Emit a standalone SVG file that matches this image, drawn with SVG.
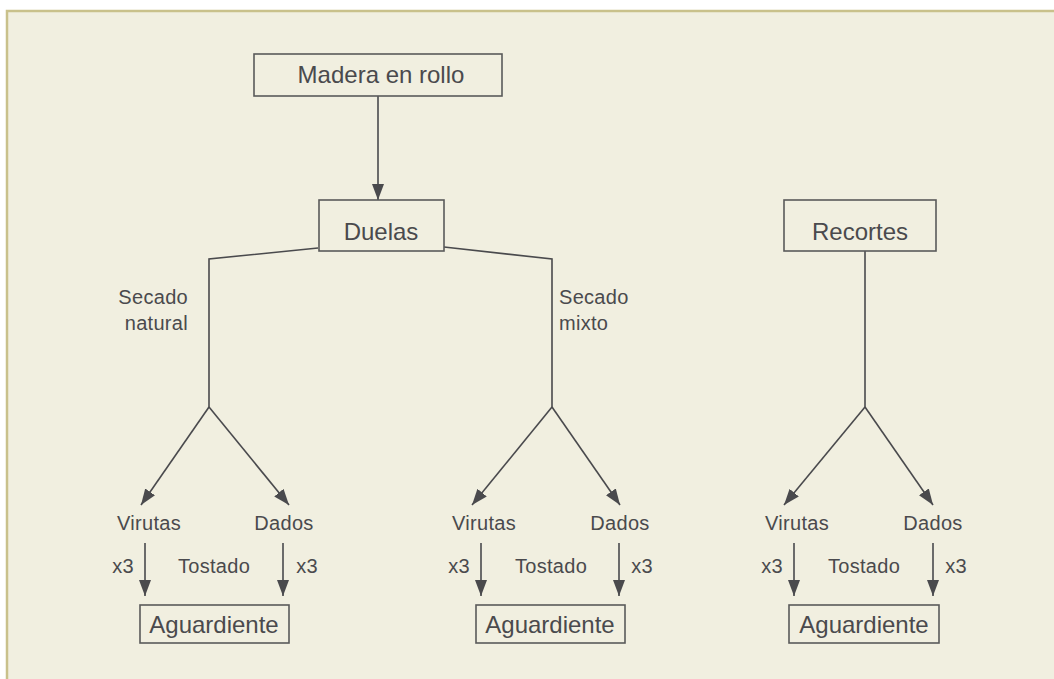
<svg xmlns="http://www.w3.org/2000/svg" width="1054" height="679" viewBox="0 0 1054 679">
  <defs>
    <marker id="arr" markerUnits="userSpaceOnUse" markerWidth="17" markerHeight="13" refX="16" refY="6" orient="auto">
      <path d="M0,0 L16,6 L0,12 z" fill="#4a4a4d"/>
    </marker>
  </defs>
  <style>
    .bg { fill: #f1efe0; stroke: #c9c18b; stroke-width: 2.5; }
    .box { fill: none; stroke: #5a5a5a; stroke-width: 1.6; }
    .t { font-family: "Liberation Sans", Arial, sans-serif; fill: #4a4a4d; text-anchor: middle; }
    .big { font-size: 24px; }
    .sm { font-size: 20px; letter-spacing: 0.3px; }
    .ln { fill: none; stroke: #4a4a4d; stroke-width: 1.6; }
    .ar { fill: none; stroke: #4a4a4d; stroke-width: 1.6; marker-end: url(#arr); }
  </style>
  <rect class="bg" x="7" y="11" width="1060" height="680"/>

  <g id="connectors">
    <line class="ar" x1="378" y1="96" x2="378" y2="200"/>
    <polyline class="ln" points="318,248 209,259 209,407"/>
    <polyline class="ln" points="444,247 552,259 552,407"/>
    <line class="ln" x1="865" y1="251" x2="865" y2="407"/>
    <line class="ar" x1="209" y1="407" x2="141" y2="505"/>
    <line class="ar" x1="209" y1="407" x2="289" y2="505"/>
    <line class="ar" x1="552" y1="407" x2="472" y2="505"/>
    <line class="ar" x1="552" y1="407" x2="620" y2="505"/>
    <line class="ar" x1="865" y1="407" x2="784" y2="505"/>
    <line class="ar" x1="865" y1="407" x2="933" y2="505"/>
    <line class="ar" x1="145" y1="543" x2="145" y2="596"/>
    <line class="ar" x1="283" y1="543" x2="283" y2="596"/>
    <line class="ar" x1="481" y1="543" x2="481" y2="596"/>
    <line class="ar" x1="619" y1="543" x2="619" y2="596"/>
    <line class="ar" x1="794" y1="543" x2="794" y2="596"/>
    <line class="ar" x1="933" y1="543" x2="933" y2="596"/>
  </g>

  <g id="madera">
    <rect class="box" x="254" y="54" width="248" height="42"/>
    <text class="t big" x="381" y="83">Madera en rollo</text>
  </g>
  <g id="duelas">
    <rect class="box" x="319" y="200" width="125" height="51"/>
    <text class="t big" x="381" y="240">Duelas</text>
  </g>
  <g id="recortes">
    <rect class="box" x="784" y="200" width="152" height="51"/>
    <text class="t big" x="860" y="240">Recortes</text>
  </g>

  <g id="secado-natural">
    <text class="t sm" x="188" y="304" style="text-anchor:end">Secado</text>
    <text class="t sm" x="188" y="330" style="text-anchor:end">natural</text>
  </g>
  <g id="secado-mixto">
    <text class="t sm" x="559" y="304" style="text-anchor:start">Secado</text>
    <text class="t sm" x="559" y="330" style="text-anchor:start">mixto</text>
  </g>

  <g id="group-natural">
    <text class="t sm" x="149" y="530">Virutas</text>
    <text class="t sm" x="284" y="530">Dados</text>
    <text class="t sm" x="123" y="573">x3</text>
    <text class="t sm" x="214" y="573">Tostado</text>
    <text class="t sm" x="307" y="573">x3</text>
  </g>
  <g id="aguardiente-1">
    <rect class="box" x="140" y="605" width="149" height="38"/>
    <text class="t big" x="214" y="633">Aguardiente</text>
  </g>

  <g id="group-mixto">
    <text class="t sm" x="484" y="530">Virutas</text>
    <text class="t sm" x="620" y="530">Dados</text>
    <text class="t sm" x="459" y="573">x3</text>
    <text class="t sm" x="551" y="573">Tostado</text>
    <text class="t sm" x="642" y="573">x3</text>
  </g>
  <g id="aguardiente-2">
    <rect class="box" x="476" y="605" width="149" height="38"/>
    <text class="t big" x="550" y="633">Aguardiente</text>
  </g>

  <g id="group-recortes">
    <text class="t sm" x="797" y="530">Virutas</text>
    <text class="t sm" x="933" y="530">Dados</text>
    <text class="t sm" x="772" y="573">x3</text>
    <text class="t sm" x="864" y="573">Tostado</text>
    <text class="t sm" x="956" y="573">x3</text>
  </g>
  <g id="aguardiente-3">
    <rect class="box" x="789" y="605" width="150" height="38"/>
    <text class="t big" x="864" y="633">Aguardiente</text>
  </g>
</svg>
